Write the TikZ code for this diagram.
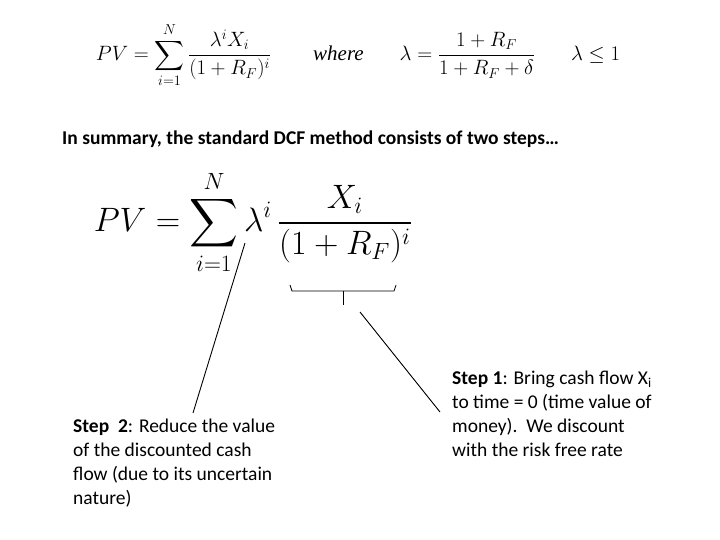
\documentclass[tikz,border=0pt]{standalone}
\usepackage{fontspec}
\setmainfont{Carlito}
\newfontfamily\tms{Liberation Serif}
\usepackage{amsmath}
\begin{document}
\begin{tikzpicture}[x=1pt,y=-1pt,
  txt/.style={anchor=north west,align=left,inner sep=0pt,font=\fontsize{19.5}{24}\selectfont},
  lnk/.style={draw=black,line width=0.9pt}]
\useasboundingbox[fill=white] (0,0) rectangle (720,540);
\node[inner sep=0pt] (f1) at (358,55) {\fontsize{21}{24}\selectfont
  $\displaystyle PV=\sum_{i=1}^{N}\frac{\lambda^i X_i}{(1+R_F)^i}$\hspace{42pt}\textit{\tms where}\hspace{36pt}$\displaystyle\lambda=\frac{1+R_F}{1+R_F+\delta}$\hspace{36pt}$\lambda\le 1$};
\node[txt,font=\bfseries\fontsize{19.5}{22}\selectfont] (sum) at (62,131) {In summary, the standard DCF method consists of two steps…};
\node[inner sep=0pt,scale=1.36] (f2) at (253,222) {\fontsize{26}{30}\selectfont
  $\displaystyle PV=\sum_{i=1}^{N}\lambda^i\,\frac{X_i}{(1+R_F)^i}$};
\coordinate (bm) at (343,305);
\draw[line width=0.8pt] (290,285) -- (292,291) -- (394,291) -- (396,285);
\draw[line width=0.8pt] (343,291) -- (bm);
\coordinate (lam) at (245,243);
\node[txt] (s2) at (73,419) {\textbf{Step\ \ 2}: Reduce the value\\of the discounted cash\\flow (due to its uncertain\\nature)};
\node[txt] (s1) at (452,371) {\textbf{Step 1}: Bring cash flow X\textsubscript{i}\\to time = 0 (time value of\\money).\ \ We discount\\with the risk free rate};
\coordinate (e2) at (193,413);
\coordinate (b1) at (360,312);
\coordinate (e1) at (440,412);
\draw[lnk] (lam) -- (e2);
\draw[lnk] (b1) -- (e1);
\end{tikzpicture}
\end{document}
